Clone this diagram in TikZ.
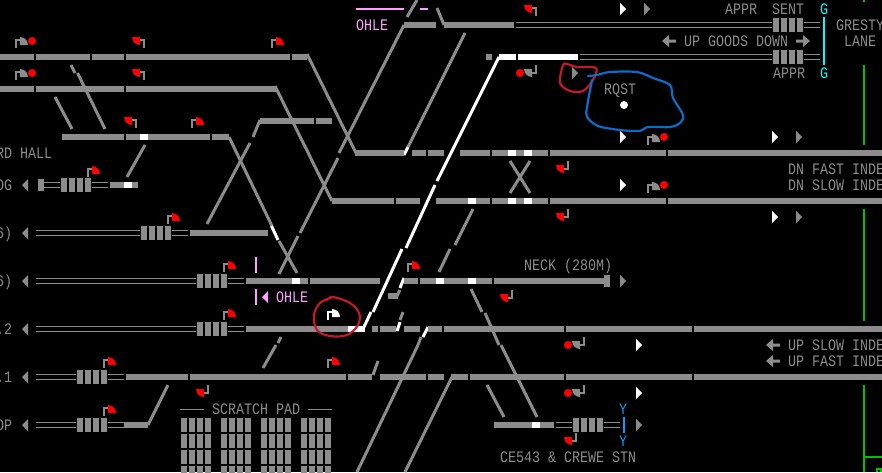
\documentclass[tikz,border=0pt]{standalone}
\usepackage{fontspec}
\setmainfont[FakeStretch=0.833]{Liberation Mono}
\definecolor{tg}{HTML}{8C8C8C}
\definecolor{flagred}{HTML}{FF0000}
\definecolor{pinkc}{HTML}{FFA0FF}
\definecolor{cyanc}{HTML}{00FFFF}
\definecolor{bluec}{HTML}{00A0FF}
\definecolor{greenc}{HTML}{00C000}
\definecolor{penred}{HTML}{C4182C}
\definecolor{penblue}{HTML}{0A6EC8}
\tikzset{
  track/.style={line width=6pt,tg},
  whitetrack/.style={line width=6pt,white},
  diag/.style={line width=3pt,tg},
  whitediag/.style={line width=3pt,white},
  thin rail/.style={line width=1pt,tg},
  polec/.style={line width=1.6pt},
  lab/.style={anchor=base west,inner sep=0pt,font=\fontsize{16}{16}\selectfont,text=tg},
  pen/.style={line width=2.2pt,line join=round,line cap=round}
}
\newcommand{\trk}[2]{\foreach \a/\b in {#2}{\draw[track] (\a,#1) -- (\b,#1);}}
\newcommand{\wtrk}[2]{\foreach \a/\b in {#2}{\draw[whitetrack] (\a,#1) -- (\b,#1);}}
\newcommand{\dbl}[3]{\draw[thin rail] (#1,#3-2.3) -- (#2,#3-2.3) (#1,#3+2.3) -- (#2,#3+2.3);}
\newcommand{\lev}[2]{\foreach \k in {0,8,16,24}{\fill[tg] (#1+\k,#2-7) rectangle (#1+\k+6,#2+7);}}
\newcommand{\wedgeUR}[3]{\fill[#3] (#1,#2) -- (#1+8,#2) .. controls (#1+8,#2-4.4) and (#1+4.4,#2-8) .. (#1,#2-8) -- cycle;}
\newcommand{\wedgeDL}[3]{\fill[#3] (#1,#2) -- (#1-8,#2) .. controls (#1-8,#2+4.4) and (#1-4.4,#2+8) .. (#1,#2+8) -- cycle;}
\newcommand{\sigUR}[3]{\draw[polec,tg] (#1,#2) -- (#1,#2-8) -- (#1+4,#2-8); \wedgeUR{#1+4}{#2-3}{#3}}
\newcommand{\sigDL}[3]{\draw[polec,tg] (#1,#2) -- (#1,#2+8) -- (#1-4,#2+8); \wedgeDL{#1-4}{#2+4}{#3}}
\newcommand{\sigTL}[3]{\draw[polec,tg] (#1,#2) -- (#1,#2-8) -- (#1-4,#2-8); \wedgeDL{#1-4}{#2-11}{#3}}
\newcommand{\triL}[3]{\fill[#3] (#1+3,#2-6) -- (#1-3,#2) -- (#1+3,#2+6) -- cycle;}
\newcommand{\triR}[3]{\fill[#3] (#1-3,#2-6) -- (#1+3,#2) -- (#1-3,#2+6) -- cycle;}
\newcommand{\arrL}[2]{\fill[tg] (#1,#2) -- (#1+7,#2-6) -- (#1+7,#2-1.5) -- (#1+14,#2-1.5) -- (#1+14,#2+1.5) -- (#1+7,#2+1.5) -- (#1+7,#2+6) -- cycle;}
\newcommand{\arrR}[2]{\fill[tg] (#1,#2) -- (#1-7,#2-6) -- (#1-7,#2-1.5) -- (#1-14,#2-1.5) -- (#1-14,#2+1.5) -- (#1-7,#2+1.5) -- (#1-7,#2+6) -- cycle;}
\newcommand{\lbl}[5][tg]{\node[lab,text=#1] (#2) at (#3,#4+5.3) {#5};}
\begin{document}
\begin{tikzpicture}[x=1pt,y=-1pt]
\fill[black] (0,0) rectangle (882,472);
\useasboundingbox (0,0) rectangle (882,472);
\clip (0,0) rectangle (882,472);
% ---- diagonals
\draw[diag] (71,65) -- (75,73);
\draw[diag] (77.5,73) -- (105,129);
\draw[diag] (55,97) -- (72,129);
\draw[diag] (145,145) -- (127,177);
\draw[diag] (307,54) -- (356,153);
\draw[diag] (275,86) -- (332,201);
\draw[diag] (229,137) -- (272,226);
\draw[diag] (279,241) -- (297,273);
\draw[diag] (207,224) -- (250,143);
\draw[diag] (253,137) -- (260,120);
\draw[diag] (404,25) -- (339,153);
\draw[diag] (338,158) -- (300,233);
\draw[diag] (298,236) -- (279,274);
\draw[diag] (417,0) -- (407,17);
\draw[diag] (437,8) -- (444,25);
\draw[diag] (465,33) -- (408,147);
\draw[diag] (473,209) -- (455,245);
\draw[diag] (450,249) -- (439,272);
\draw[diag] (510,161) -- (530,193);
\draw[diag] (530,161) -- (510,193);
\draw[diag] (148,425) -- (168,385);
\draw[diag] (263,368) -- (276,345);
\draw[diag] (278,343) -- (281,337);
\draw[diag] (373,375) -- (378,361);
\draw[diag] (396,298) -- (400,290);
\draw[diag] (400,320) -- (403,312);
\draw[diag] (421,337) -- (418,345);
\draw[diag] (418,345) -- (357,472);
\draw[diag] (452,377) -- (405,472);
\draw[diag] (487,385) -- (504,417);
\draw[diag] (471,289) -- (482,312);
\draw[diag] (485,313) -- (499,345);
\draw[diag] (501,345) -- (537,417);
\draw[whitediag] (499,57) -- (437,181);
\draw[whitediag] (435,185) -- (406,248);
\draw[whitediag] (402,249) -- (373,312);
\draw[whitediag] (371,312) -- (363,329);
\draw[whitediag] (404,155) -- (408,147);
\draw[whitediag] (271.5,226) -- (278,240);
\draw[whitediag] (400,288) -- (404,278);
\draw[whitediag] (397,331) -- (400,322);
\draw[whitediag] (428,327) -- (423,337);
\draw[track] (388,296) -- (398,296);
% ---- level tracks
\trk{25}{404/436,444/514}
\dbl{516}{772}{25}\lev{773}{25}\dbl{804}{820}{25}
\trk{57}{0/34,36/90,92/124,126/290,292/307,486/492}
\wtrk{57}{499/516,518/578}
\dbl{580}{772}{57}\lev{773}{57}\dbl{804}{820}{57}
\trk{89}{0/34,36/124,126/276}
\trk{121}{260/314,316/332}
\trk{137}{62/124,126/140,148/210,212/229}
\wtrk{137}{140/148}
\trk{153}{355/404,412/426,428/444,460/490,492/508,516/524,532/548,550/666,668/882}
\wtrk{153}{508/516,524/532}
\fill[tg] (38,179) rectangle (44,191);
\dbl{44}{60}{185}\lev{61}{185}\dbl{92}{108}{185}
\trk{185}{110/124,132/138}\wtrk{185}{124/132}
\trk{201}{332/394,396/420,436/468,476/490,492/508,516/524,532/548,550/666,668/882}
\wtrk{201}{468/476,508/516,524/532}
\dbl{36}{140}{233}\lev{141}{233}\dbl{172}{188}{233}
\trk{233}{190/268}
\dbl{36}{196}{281}\lev{197}{281}\dbl{228}{244}{281}
\trk{281}{246/292,300/308,310/380,404/418,420/436,444/468,476/492,494/604}
\wtrk{281}{292/300,436/444,468/476}
\fill[tg] (604,275) rectangle (610,287);
\dbl{36}{196}{329}\lev{197}{329}\dbl{228}{244}{329}
\trk{329}{246/348,372/378,380/396,404/420,428/442,444/564,566/692,694/882}
\wtrk{329}{348/365}
\dbl{36}{76}{377}\lev{77}{377}\dbl{108}{124}{377}
\trk{377}{126/188,190/346,348/372,380/426,428/444,451/468,470/564,566/692,694/882}
\dbl{36}{76}{425}\lev{77}{425}\dbl{108}{124}{425}
\trk{425}{124/148,494/532,540/554}\wtrk{425}{532/540}
\dbl{556}{572}{425}\lev{573}{425}\dbl{604}{620}{425}
% ---- scratch pad
\foreach \cx in {181,221,261,301}{\foreach \cy in {425,441,457,473}{\lev{\cx}{\cy}}}
\draw[thin rail] (180,409) -- (204,409) (308,409) -- (332,409);
\lbl{scratch}{212}{409}{SCRATCH PAD}
% ---- signals
\sigUR{16}{48}{tg}\fill[flagred] (32,41) circle (4);
\sigUR{16}{80}{tg}\fill[flagred] (32,73) circle (4);
\sigTL{144}{48}{flagred}\sigTL{144}{80}{flagred}
\sigUR{272}{48}{flagred}
\sigTL{136}{128}{flagred}\sigUR{192}{128}{flagred}
\sigUR{88}{177}{flagred}\sigUR{168}{224}{flagred}
\sigUR{224}{272}{flagred}\sigUR{224}{320}{flagred}
\sigUR{104}{368}{flagred}\sigUR{104}{416}{flagred}
\sigDL{208}{385}{flagred}
\sigTL{536}{16}{flagred}
\sigDL{536}{65}{tg}\fill[flagred] (520,73) circle (4);
\sigDL{568}{161}{flagred}\sigDL{568}{209}{flagred}
\sigDL{512}{290}{flagred}
\sigUR{408}{272}{flagred}
\sigUR{328}{368}{flagred}
\draw[polec,white] (328,320) -- (328,312) -- (332,312); \wedgeUR{332}{317}{white}
\sigDL{584}{337}{tg}\fill[flagred] (568,345) circle (4);
\sigDL{584}{385}{tg}\fill[flagred] (568,393) circle (4);
\sigDL{576}{433}{flagred}
\sigUR{648}{145}{tg}\fill[flagred] (664,137) circle (4);
\sigUR{648}{193}{tg}\fill[flagred] (664,185) circle (4);
% ---- direction triangles
\foreach \yy in {185,233,281,329,377,425}{\triL{25}{\yy}{tg}}
\triL{265}{297}{pinkc}
\triR{623}{9}{white}\triR{647}{9}{tg}
\triR{575}{73}{tg}
\triR{623}{137}{white}\triR{775}{137}{white}\triR{799}{137}{tg}
\triR{623}{185}{white}
\triR{775}{217}{white}\triR{799}{217}{tg}
\triR{623}{281}{tg}
\triR{639}{345}{white}\triR{639}{393}{white}\triR{639}{425}{tg}
\fill[white] (624,105) circle (4);
% ---- coloured marks
\draw[line width=2pt,pinkc] (356,9) -- (404,9) (420,9) -- (428,9);
\draw[line width=2pt,pinkc] (256,257) -- (256,273) (256,289) -- (256,305);
\draw[line width=2pt,cyanc] (824,17) -- (824,65);
\draw[line width=2pt,bluec] (624,417) -- (624,433);
\draw[line width=2pt,greenc] (864,0) -- (864,2) (864,65) -- (864,145) (864,209) -- (864,321) (864,385) -- (864,472) (864,457) -- (882,457);
\draw[line width=1.5pt,greenc] (877,472) -- (877,469) -- (881,469) -- (881,472);
% ---- text
\lbl[pinkc]{ohlea}{356}{25}{OHLE}
\lbl[pinkc]{ohleb}{276}{297}{OHLE}
\lbl{rdhall}{-4}{153}{RD HALL}
\lbl{dog}{-4}{185}{OG}
\lbl{s6a}{-4}{233}{6)}
\lbl{s6b}{-4}{281}{6)}
\lbl{s12}{-4}{329}{.2}
\lbl{s11}{-4}{377}{.1}
\lbl{sop}{-4}{425}{OP}
\lbl{neck}{524}{265}{NECK (280M)}
\lbl{crewe}{500}{457}{CE543 \& CREWE STN}
\lbl{rqst}{604}{89}{RQST}
\lbl{appra}{725}{9}{APPR}
\lbl{sent}{772}{9}{SENT}
\lbl{apprb}{773}{73}{APPR}
\lbl[cyanc]{ga}{820}{9}{G}
\lbl[cyanc]{gb}{820}{73}{G}
\lbl{gresty}{836}{25}{GRESTY}
\lbl{lane}{844}{41}{LANE}
\arrL{662}{41}
\lbl{goods}{684}{41}{UP GOODS DOWN}
\arrR{810}{41}
\lbl{dnfast}{788}{169}{DN FAST INDE}
\lbl{dnslow}{788}{185}{DN SLOW INDE}
\arrL{766}{345}\arrL{766}{361}
\lbl{upslow}{788}{345}{UP SLOW INDE}
\lbl{upfast}{788}{361}{UP FAST INDE}
\lbl[bluec]{ya}{619}{409}{Y}
\lbl[bluec]{yb}{619}{441}{Y}
% ---- hand-drawn rings
\draw[pen,penred] plot[smooth,tension=0.6] coordinates {(333,297)(320,303)(314,315)(317,330)(330,336)(347,335)(358,325)(359,313)(350,303)(333,297)(327,300)};
\draw[pen,penred] plot[smooth cycle,tension=0.5] coordinates {(563,65)(560,83)(570,91)(583,91)(593,80)(596,68)(577,67)(567,64)};
\draw[pen,penblue] plot[smooth,tension=0.5] coordinates {(588,76)(597,75)(610,72)(637,72)(653,78)(670,85)(673,98)(683,115)(680,123)(670,127)(648,127)(640,131)(620,130)(598,126)(587,117)(587,107)(592,80)};
\end{tikzpicture}
\end{document}
